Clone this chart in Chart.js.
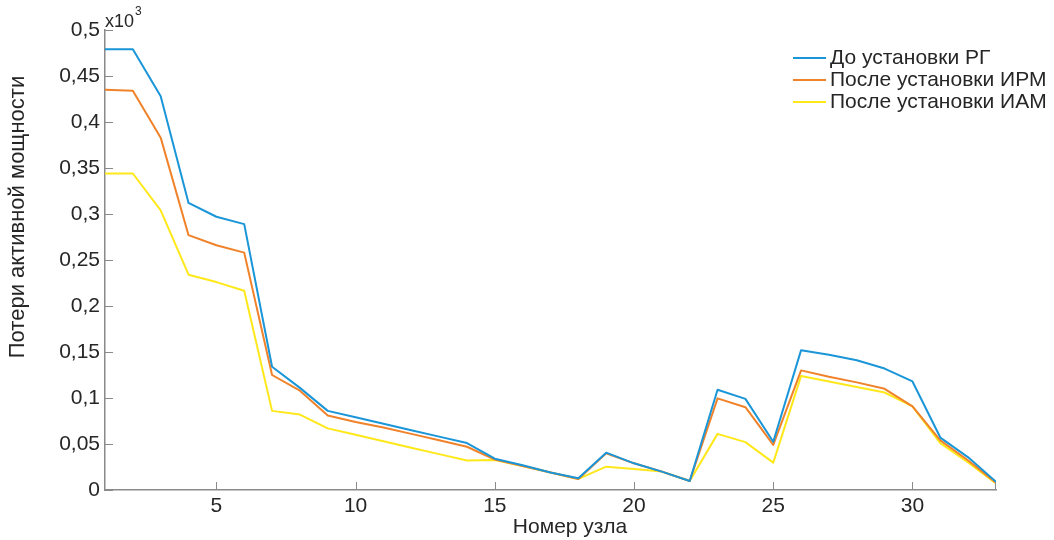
<!DOCTYPE html>
<html>
<head>
<meta charset="utf-8">
<script src="https://cdn.jsdelivr.net/npm/chart.js@4/dist/chart.umd.min.js"></script>
<style>
  html, body { margin: 0; padding: 0; background: #fff; }
  #wrap { width: 1054px; height: 540px; position: relative; }
</style>
</head>
<body>
<div id="wrap"><canvas id="chart"></canvas></div>
<script>
// Node numbers and losses (x10^3)
const nodes = [1,2,3,4,5,6,7,8,9,10,11,12,13,14,15,16,17,18,19,20,21,22,23,24,25,26,27,28,29,30,31,32,33];
const lossBefore = [0.479,0.479,0.428,0.312,0.297,0.289,0.134,0.111,0.086,0.079,0.072,0.065,0.058,0.051,0.034,0.027,0.019,0.0127,0.0406,0.029,0.020,0.0098,0.109,0.099,0.0525,0.152,0.147,0.141,0.132,0.118,0.057,0.0355,0.009];
const lossIRM = [0.435,0.434,0.383,0.277,0.266,0.258,0.125,0.108,0.081,0.074,0.068,0.061,0.054,0.047,0.033,0.026,0.019,0.012,0.040,0.029,0.020,0.0098,0.0996,0.090,0.049,0.130,0.123,0.117,0.110,0.091,0.054,0.032,0.008];
const lossIAM = [0.344,0.344,0.304,0.234,0.226,0.2166,0.086,0.082,0.067,0.060,0.053,0.046,0.039,0.032,0.0326,0.026,0.019,0.012,0.0254,0.0228,0.020,0.0098,0.061,0.052,0.0297,0.124,0.118,0.112,0.106,0.091,0.051,0.030,0.007];
const seriesNames = ['До установки РГ', 'После установки ИРМ', 'После установки ИАМ'];
const seriesColors = ['#1a96d8', '#f0822a', '#ffe81a'];
const xTicks = [5, 10, 15, 20, 25, 30];
const yTicks = [0, 0.05, 0.1, 0.15, 0.2, 0.25, 0.3, 0.35, 0.4, 0.45, 0.5];

const FONT = 'Liberation Sans, Arial, sans-serif';
const AXIS = '#8a8a8a';
const TXT = '#262626';

const toPoints = arr => arr.map((v, i) => ({ x: nodes[i], y: v }));

// inward tick marks, x10^3 label, axis titles and legend
const decorPlugin = {
    id: 'decor',
    afterDraw(chart) {
        const ctx = chart.ctx;
        const area = chart.chartArea;
        const xs = chart.scales.x, ys = chart.scales.y;
        ctx.save();
        ctx.strokeStyle = AXIS;
        ctx.lineWidth = 1;
        ctx.beginPath();
        xTicks.forEach(v => {
            const px = Math.round(xs.getPixelForValue(v)) + 0.5;
            ctx.moveTo(px, area.bottom);
            ctx.lineTo(px, area.bottom - 8);
        });
        ctx.moveTo(area.right - 0.5, area.bottom);
        ctx.lineTo(area.right - 0.5, area.bottom - 8);
        yTicks.forEach(v => {
            const py = Math.round(ys.getPixelForValue(v)) + 0.5;
            ctx.moveTo(area.left, py);
            ctx.lineTo(area.left + 8, py);
        });
        ctx.stroke();

        // exponent
        ctx.fillStyle = TXT;
        ctx.font = '18px ' + FONT;
        ctx.textBaseline = 'alphabetic';
        ctx.textAlign = 'left';
        ctx.fillText('x10', area.left, area.top - 3);
        const w = ctx.measureText('x10').width;
        ctx.font = '12px ' + FONT;
        ctx.fillText('3', area.left + w + 1, area.top - 15);

        // axis titles
        ctx.textAlign = 'center';
        ctx.textBaseline = 'middle';
        ctx.font = '21px ' + FONT;
        ctx.fillText('Номер узла', 570, 527);
        ctx.save();
        ctx.font = '22px ' + FONT;
        ctx.translate(18, 217);
        ctx.rotate(-Math.PI / 2);
        ctx.fillText('Потери активной мощности', 0, 0);
        ctx.restore();

        // legend
        ctx.font = '21px ' + FONT;
        ctx.textAlign = 'left';
        chart.data.datasets.forEach((ds, i) => {
            const y = 58 + i * 22;
            ctx.strokeStyle = ds.borderColor;
            ctx.lineWidth = 2;
            ctx.beginPath();
            ctx.moveTo(793, y);
            ctx.lineTo(826, y);
            ctx.stroke();
            ctx.fillStyle = TXT;
            ctx.fillText(ds.label, 830, y);
        });
        ctx.restore();
    }
};

new Chart(document.getElementById('chart'), {
    type: 'line',
    data: {
        datasets: [
            { label: seriesNames[0], data: toPoints(lossBefore), borderColor: seriesColors[0] },
            { label: seriesNames[1], data: toPoints(lossIRM), borderColor: seriesColors[1] },
            { label: seriesNames[2], data: toPoints(lossIAM), borderColor: seriesColors[2] }
        ]
    },
    options: {
        responsive: true,
        maintainAspectRatio: false,
        animation: false,
        layout: { padding: { top: 30, right: 58, left: 0, bottom: 0 } },
        elements: {
            point: { radius: 0 },
            line: { borderWidth: 2, tension: 0, fill: false, borderJoinStyle: 'round' }
        },
        plugins: {
            legend: { display: false },
            tooltip: { enabled: false }
        },
        scales: {
            x: {
                type: 'linear',
                min: 1,
                max: 33,
                afterBuildTicks: s => { s.ticks = xTicks.map(v => ({ value: v })); },
                afterFit: s => { s.height = 50; },
                grid: { display: false, drawTicks: false },
                border: { display: true, color: AXIS, width: 1.5 },
                ticks: {
                    color: TXT,
                    font: { size: 21, family: FONT },
                    padding: 4,
                    maxRotation: 0
                }
            },
            y: {
                min: 0,
                max: 0.5,
                afterBuildTicks: s => { s.ticks = yTicks.map(v => ({ value: v })); },
                afterFit: s => { s.width = 105; },
                grid: { display: false, drawTicks: false },
                border: { display: true, color: AXIS, width: 1.5 },
                ticks: {
                    color: TXT,
                    font: { size: 21, family: FONT },
                    padding: 5,
                    callback: v => String(Number(v.toFixed(2))).replace('.', ',')
                }
            }
        }
    },
    plugins: [decorPlugin]
});
</script>
</body>
</html>
